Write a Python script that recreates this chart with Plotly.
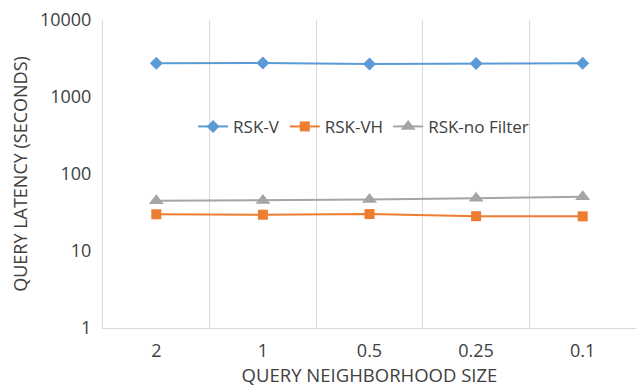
import plotly.graph_objects as go

# Query neighborhood sizes (categorical x axis)
sizes = ["2", "1", "0.5", "0.25", "0.1"]

# Query latency in seconds for each method
rsk_v = [2740, 2760, 2680, 2720, 2740]
rsk_vh = [30.0, 29.6, 30.2, 28.3, 28.2]
rsk_no_filter = [44.8, 45.3, 46.8, 48.6, 50.8]

series_names = ["RSK-V", "RSK-VH", "RSK-no Filter"]
series_colors = ["#5B9BD5", "#ED7D31", "#A5A5A5"]
series_symbols = ["diamond", "square", "triangle-up"]
marker_sizes = [10, 10, 13]

y_ticks = [1, 10, 100, 1000, 10000]
y_tick_text = ["1", "10", "100", "1000", "10000"]

FONT = "'Open Sans', sans-serif"
TEXT_COLOR = "#404040"

fig = go.Figure()
for name, values, color, symbol, msize in zip(
    series_names, [rsk_v, rsk_vh, rsk_no_filter], series_colors, series_symbols, marker_sizes
):
    fig.add_trace(
        go.Scatter(
            x=sizes,
            y=values,
            name=name,
            mode="lines+markers",
            line=dict(color=color, width=2),
            marker=dict(symbol=symbol, size=msize, color=color),
        )
    )

fig.update_layout(
    width=638,
    height=390,
    margin=dict(l=103, r=2, t=20, b=62),
    paper_bgcolor="white",
    plot_bgcolor="white",
    font=dict(family=FONT, size=18, color=TEXT_COLOR),
    showlegend=True,
    legend=dict(
        orientation="h",
        x=0.169,
        xanchor="left",
        y=0.653,
        yanchor="middle",
        bgcolor="rgba(0,0,0,0)",
        font=dict(size=17, color=TEXT_COLOR),
        itemwidth=30,
        tracegroupgap=0,
    ),
    xaxis=dict(
        type="category",
        range=[-0.5, 4.5],
        tickson="boundaries",
        showgrid=True,
        gridcolor="#D9D9D9",
        gridwidth=1,
        showline=True,
        linecolor="#D9D9D9",
        linewidth=1,
        ticks="",
        ticklabelstandoff=6,
        title=dict(text="QUERY NEIGHBORHOOD SIZE", font=dict(size=18.5), standoff=5),
    ),
    yaxis=dict(
        type="log",
        range=[0, 4],
        tickvals=y_ticks,
        ticktext=y_tick_text,
        showgrid=False,
        showline=True,
        linecolor="#D9D9D9",
        linewidth=1,
        ticks="",
        zeroline=False,
        ticklabelstandoff=7,
        title=dict(text="QUERY LATENCY (SECONDS)", font=dict(size=18), standoff=7),
    ),
)

fig.write_html("out.html")
